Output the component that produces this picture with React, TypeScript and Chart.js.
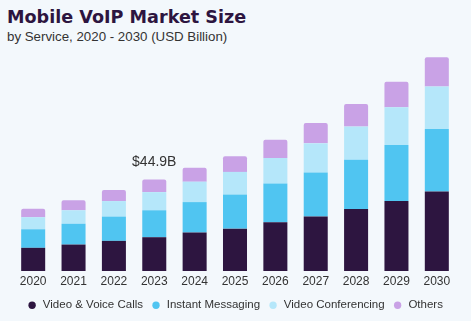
import React, { useEffect, useRef } from "react";
import { Chart, registerables } from "chart.js";

Chart.register(...registerables);

const years = ["2020", "2021", "2022", "2023", "2024", "2025", "2026", "2027", "2028", "2029", "2030"];
const videoVoiceCalls = [11.4, 13.0, 14.8, 16.6, 18.9, 20.8, 23.9, 26.8, 30.4, 34.3, 39.0];
const instantMessaging = [9.1, 10.2, 11.9, 13.2, 14.9, 16.7, 19.0, 21.5, 24.1, 27.5, 30.6];
const videoConferencing = [5.9, 6.6, 7.6, 8.9, 10.0, 11.1, 12.5, 14.3, 16.3, 18.4, 20.8];
const others = [4.2, 4.9, 5.4, 6.2, 6.8, 7.6, 8.9, 10.0, 11.1, 12.5, 14.3];
const annotationIndex = 3;
const annotationLabel = "$44.9B";

const FONT = "'Liberation Sans', Arial, sans-serif";

export default function App() {
  const ref = useRef<HTMLCanvasElement>(null);
  useEffect(() => {
    const canvas = ref.current;
    if (!canvas) return;
    const annotate = {
      id: "annotate",
      afterDatasetsDraw(chart: any) {
        const meta = chart.getDatasetMeta(chart.data.datasets.length - 1);
        const el = meta.data[annotationIndex];
        if (!el) return;
        const ctx = chart.ctx;
        ctx.save();
        ctx.font = `14px ${FONT}`;
        ctx.fillStyle = "#333333";
        ctx.textAlign = "center";
        ctx.textBaseline = "middle";
        ctx.fillText(annotationLabel, el.x, el.y - 17);
        ctx.restore();
      },
    };
    const chart = new Chart(canvas, {
      type: "bar",
      data: {
        labels: years,
        datasets: [
          { label: "Video & Voice Calls", data: videoVoiceCalls, backgroundColor: "#2d1540" },
          { label: "Instant Messaging", data: instantMessaging, backgroundColor: "#50c5f1" },
          { label: "Video Conferencing", data: videoConferencing, backgroundColor: "#b5e7fa" },
          {
            label: "Others",
            data: others,
            backgroundColor: "#c9a2e6",
            borderRadius: { topLeft: 2, topRight: 2, bottomLeft: 0, bottomRight: 0 },
            borderSkipped: false,
          },
        ],
      },
      options: {
        responsive: false,
        animation: false,
        layout: { padding: { top: 50, left: 13, right: 14, bottom: 0 } },
        datasets: {
          bar: { categoryPercentage: 1, barPercentage: 0.595, borderWidth: 0 },
        },
        scales: {
          x: {
            stacked: true,
            grid: { display: false, drawTicks: false },
            border: { display: false },
            ticks: { color: "#333333", font: { family: FONT, size: 12 }, padding: 3 },
          },
          y: { stacked: true, display: false, min: 0, max: 108.3 },
        },
        plugins: {
          legend: {
            position: "bottom",
            labels: {
              usePointStyle: true,
              pointStyle: "circle",
              boxWidth: 10,
              boxHeight: 5.2,
              padding: 8,
              color: "#333333",
              font: { family: FONT, size: 11.5 },
            },
          },
          tooltip: { enabled: false },
        },
      },
      plugins: [annotate],
    });
    return () => chart.destroy();
  }, []);

  return (
    <div style={{ position: "fixed", left: 0, top: 0, width: 471, height: 321, background: "#f3f8fc", overflow: "hidden" }}>
      <div style={{ position: "absolute", left: 7, top: 6, fontFamily: "'DejaVu Sans', sans-serif", fontWeight: 700, fontSize: 17.6, color: "#2d1540", whiteSpace: "nowrap", lineHeight: "22px" }}>
        Mobile VoIP Market Size
      </div>
      <div style={{ position: "absolute", left: 7, top: 29, fontFamily: FONT, fontSize: 13.3, color: "#333333", whiteSpace: "nowrap", lineHeight: "16px" }}>
        by Service, 2020 - 2030 (USD Billion)
      </div>
      <canvas ref={ref} width={471} height={321} style={{ position: "absolute", left: 0, top: 0 }} />
    </div>
  );
}
